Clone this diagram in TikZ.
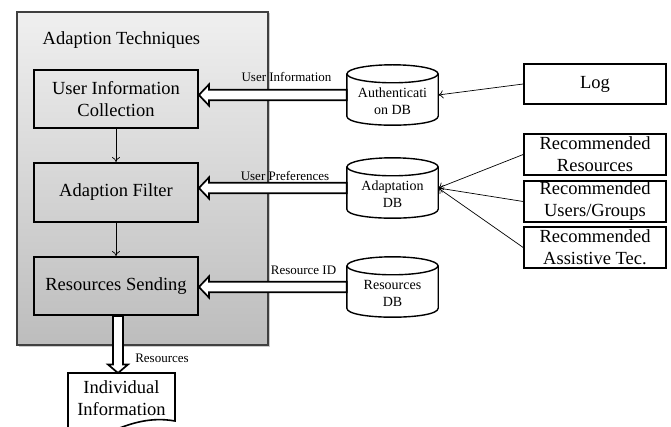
\documentclass[tikz,border=0pt]{standalone}
\usepackage{fontspec}
\setmainfont{Liberation Serif}
\usetikzlibrary{calc,arrows.meta}

\tikzset{
  panel/.style={draw=black!75, line width=1.2pt, top color=black!6, bottom color=black!26,
    minimum width=251pt, minimum height=333pt, inner sep=0pt},
  stage/.style={draw=black, line width=1.8pt, minimum width=164pt, minimum height=58pt,
    inner sep=0pt, align=center, font=\fontsize{18.5}{22}\selectfont},
  source/.style={draw=black, line width=1.6pt, fill=white, minimum width=142pt, minimum height=40pt,
    inner sep=0pt, align=center, font=\fontsize{18.5}{22}\selectfont},
  db/.style={draw=none, minimum width=91pt, minimum height=60pt, inner sep=0pt},
  dbline/.style={draw=black, line width=1.4pt, fill=white},
  dbtext/.style={align=center, inner sep=0pt, font=\fontsize{14}{17}\selectfont},
  lbl/.style={inner sep=0pt, font=\fontsize{13}{15}\selectfont},
  fat/.style={draw=black, line width=1.7pt, fill=white, line join=miter},
  thin/.style={draw=black, line width=0.7pt, -{To[length=5pt,width=8pt]}},
}

% database cylinder drawn around a named (invisible) node
\newcommand\dbcylinder[1]{%
  \draw[dbline] ($(#1.north west)+(0,9)$) -- ($(#1.south west)+(0,-9)$)
    .. controls +(0,12) and +(0,12) .. ($(#1.south east)+(0,-9)$)
    -- ($(#1.north east)+(0,9)$);
  \draw[dbline] ($(#1.north)+(0,9)$) ellipse[x radius=45.5, y radius=9];
}

% broad hollow arrow pointing left: #1 tip, #2 tail
\newcommand\broadleft[2]{%
  \draw[fat] (#1) -- ++(10,-10.5) -- ++(0,5.2) -- ($(#2)+(0,-5.3)$)
    -- ($(#2)+(0,5.3)$) -- ($(#1)+(10,5.3)$) -- ++(0,5.2) -- cycle;
}

\begin{document}
\begin{tikzpicture}[x=1pt, y=-1pt]
  \useasboundingbox (0,0) rectangle (671,427);
  \clip (0,0) rectangle (671,427);

  % technique panel with a soft shadow
  \fill[black!20] (18.5,13.5) rectangle (269.5,346.5);
  \node[panel] (panel) at (142.5,178.5) {};
  \node[anchor=west, inner sep=0pt, font=\fontsize{18.5}{22}\selectfont] (title) at (42.5,40) {Adaption Techniques};

  % processing stages
  \node[stage] (uic) at (116,99) {User Information\\Collection};
  \node[stage, minimum height=59pt] (af) at (116,192.5) {Adaption Filter};
  \node[stage] (rs) at (116,286) {Resources Sending};

  \draw[thin] (uic.south) -- (af.north);
  \draw[thin] (af.south) -- (rs.north);

  % databases
  \node[db] (auth) at (392.5,95) {};
  \node[db] (adapt) at (392.5,188) {};
  \node[db] (resdb) at (392.5,287) {};
  \dbcylinder{auth}
  \dbcylinder{adapt}
  \dbcylinder{resdb}
  \node[dbtext] (authtxt) at ($(auth.center)+(0,6.5)$) {Authenticati\\on DB};
  \node[dbtext] (adapttxt) at ($(adapt.center)+(0,6.5)$) {Adaptation\\DB};
  \node[dbtext] (resdbtxt) at ($(resdb.center)+(0,6.5)$) {Resources\\DB};

  % data sources on the right
  \node[source] (log) at (595,84) {Log};
  \node[source, minimum height=41pt] (rr) at (595,154.5) {Recommended\\Resources};
  \node[source, minimum height=41pt] (rug) at (595,201.5) {Recommended\\Users/Groups};
  \node[source, minimum height=41pt] (rat) at (595,247.5) {Recommended\\Assistive Tec.};

  \draw[thin] (log.west) -- (auth.east);
  \draw[thin] (rr.west) -- (adapt.east);
  \draw[thin] (rug.west) -- (adapt.east);
  \draw[thin] (rat.west) -- (adapt.east);

  % broad arrows from the databases into the stages
  \coordinate (t1) at (uic.east |- auth.west);
  \coordinate (t2) at (af.east |- adapt.west);
  \coordinate (t3) at (rs.east |- resdb.west);
  \broadleft{t1}{auth.west}
  \broadleft{t2}{adapt.west}
  \broadleft{t3}{resdb.west}

  \node[lbl] (l1) at (286.5,77) {User Information};
  \node[lbl] (l2) at (285,175.5) {User Preferences};
  \node[lbl] (l3) at (303.5,270.5) {Resource ID};

  % output document
  \draw[line width=1.6pt, fill=white] (68,373) -- (68,438)
    .. controls (95,450) and (125,412) .. (175,421) -- (175,373) -- cycle;
  \node[inner sep=0pt, minimum width=107pt, minimum height=2pt, anchor=north] (doc) at (121.5,373) {};
  \node[align=center, inner sep=0pt, font=\fontsize{18.5}{22}\selectfont] (doctxt) at (121.5,398) {Individual\\Information};

  % broad arrow down to the document
  \coordinate (b0) at ($(rs.south)+(2,0)$);
  \coordinate (b1) at (b0 |- doc.north);
  \draw[fat] (b1) -- ++(-10,-8.5) -- ++(5,0) -- ($(b0)+(-5,0)$) -- ($(b0)+(5,0)$)
    -- ($(b1)+(5,-8.5)$) -- ++(5,0) -- cycle;
  \node[lbl] (l4) at (162,358) {Resources};
\end{tikzpicture}
\end{document}
